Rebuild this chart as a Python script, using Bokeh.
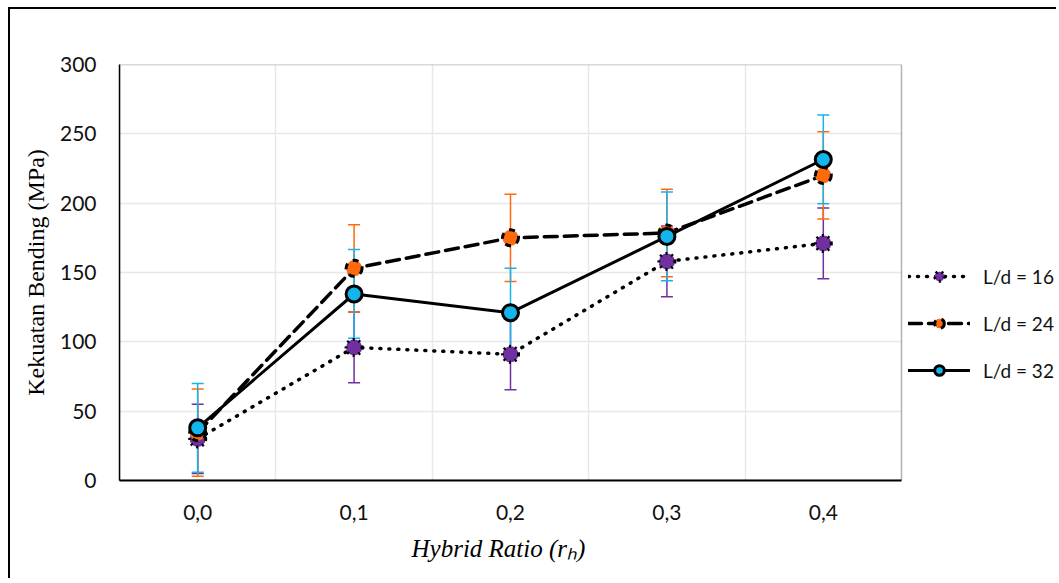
from bokeh.plotting import figure
from bokeh.models import (Range1d, FixedTicker, Legend, LegendItem, Title,
                          BoxAnnotation, ColumnDataSource)
from bokeh.embed import file_html
from bokeh.resources import INLINE

# ---- data ----
categories = ["0,0", "0,1", "0,2", "0,3", "0,4"]
x_pos = [0, 1, 2, 3, 4]
ld16 = [30, 96, 91, 158, 171]
ld16_err = [25, 25.5, 25.5, 25.5, 25.5]
ld24 = [34.5, 153, 175, 178.5, 220]
ld24_err = [31.5, 31.5, 31.5, 31.5, 31.5]
ld32 = [38, 134.5, 121, 176, 231.5]
ld32_err = [32, 32, 32, 32, 32]
y_ticks = [0, 50, 100, 150, 200, 250, 300]

PURPLE = "#7030A0"
ORANGE = "#FF6A0E"
BLUE = "#14B4EC"

# canvas starts at page (10, 9) after margin + 2px border
W, H = 1048, 571
PLOT_W = 782                       # width of the plotting area (px)
X0, X1 = -0.5, 4.5                 # category extent
# the frame runs to the canvas edge so that the legend beside it is drawn
x_end = X1 + (W - 109 - PLOT_W) / (PLOT_W / 5)

p = figure(width=W, height=H, output_backend="svg", toolbar_location=None,
           x_range=Range1d(X0, x_end), y_range=Range1d(0, 300),
           min_border_left=109, min_border_right=0, min_border_top=55,
           min_border_bottom=100)
p.margin = (7, 0, 0, 8)
p.styles = {"border-left": "2px solid black", "border-top": "2px solid black"}
p.outline_line_color = None
p.background_fill_color = "white"
p.border_fill_color = "white"

# grid
p.xgrid.ticker = FixedTicker(ticks=[0.5, 1.5, 2.5, 3.5])
p.ygrid.ticker = FixedTicker(ticks=y_ticks)
for g in (p.xgrid, p.ygrid):
    g.grid_line_color = "#e8e8e8"
    g.grid_line_width = 1.5

# blank the area right of the plotting area and draw the plot-area border
p.add_layout(BoxAnnotation(left=X1, right=x_end, bottom=0, top=300,
                           fill_color="white", fill_alpha=1, line_color=None,
                           level="underlay"))
p.add_layout(BoxAnnotation(left=X0, right=X1, bottom=0, top=300,
                           fill_alpha=0, line_color="black", line_width=1.5,
                           level="underlay"))

# axes
p.xaxis.ticker = FixedTicker(ticks=x_pos)
p.xaxis.bounds = (X0, X1)
p.xaxis.major_label_overrides = {i: c for i, c in zip(x_pos, categories)}
p.yaxis.ticker = FixedTicker(ticks=y_ticks)
for ax in (p.xaxis, p.yaxis):
    ax.major_tick_line_color = None
    ax.minor_tick_line_color = None
    ax.major_label_text_font = "Lato"
    ax.major_label_text_font_size = "21px"
    ax.major_label_text_color = "#111111"
p.xaxis.axis_line_color = "black"
p.xaxis.axis_line_width = 2
p.yaxis.axis_line_color = "black"
p.yaxis.axis_line_width = 1.5
p.xaxis.major_label_standoff = 18
p.yaxis.major_label_standoff = 17
p.yaxis.axis_label = "Kekuatan Bending (MPa)"
p.yaxis.axis_label_text_font = "Liberation Serif"
p.yaxis.axis_label_text_font_style = "normal"
p.yaxis.axis_label_text_font_size = "24px"
p.yaxis.axis_label_text_color = "black"
p.yaxis.axis_label_standoff = 8

xtitle = Title(text="Hybrid Ratio (r\u2095)", align="left", offset=292,
               text_font="Liberation Serif", text_font_style="italic",
               text_font_size="25px", text_color="black", standoff=21)
p.add_layout(xtitle, "below")

series = [
    (ld16, ld16_err, PURPLE, "1 8", 3.5, "dotted", "L/d = 16"),
    (ld24, ld24_err, ORANGE, "13 7", 3.5, "dashed", "L/d = 24"),
    (ld32, ld32_err, BLUE, "solid", 3, "solid", "L/d = 32"),
]

# error bars
for vals, errs, col, *_ in series:
    src = ColumnDataSource(dict(x=x_pos,
                                lo=[v - e for v, e in zip(vals, errs)],
                                hi=[v + e for v, e in zip(vals, errs)]))
    p.segment(x0="x", y0="lo", x1="x", y1="hi", source=src,
              line_color=col, line_width=1.5)
    p.scatter(x="x", y="lo", source=src, marker="dash", size=12,
              line_color=col, line_width=1.5)
    p.scatter(x="x", y="hi", source=src, marker="dash", size=12,
              line_color=col, line_width=1.5)

items = []
for vals, errs, col, dash, lw, mdash, label in series:
    ln = p.line(x_pos, vals, line_color="black", line_width=lw,
                line_dash=dash, line_cap="round")
    mk = p.scatter(x_pos, vals, marker="circle", size=16, fill_color=col,
                   line_color="black", line_width=3, line_dash=mdash)
    items.append(LegendItem(label=label, renderers=[ln, mk]))

legend = Legend(items=items, location=(789, 98), orientation="vertical",
                glyph_width=62, glyph_height=24, label_height=24,
                label_standoff=13, spacing=23, padding=0, margin=0,
                border_line_color=None, background_fill_alpha=0,
                label_text_font="Lato", label_text_font_size="19px",
                label_text_color="#111111")
p.add_layout(legend, "center")

open("out.html", "w").write(file_html(p, INLINE))
